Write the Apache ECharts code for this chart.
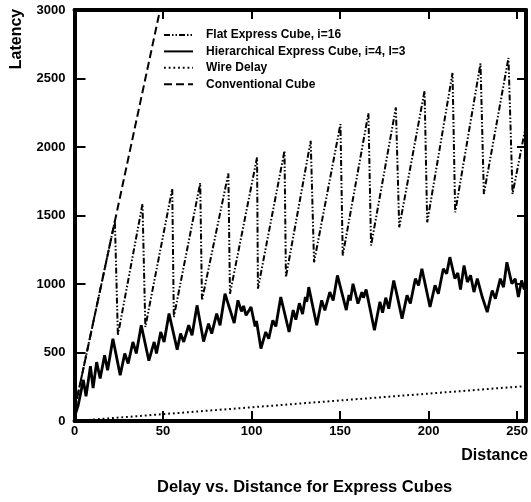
<!DOCTYPE html>
<html lang="en">
<head>
<meta charset="utf-8" />
<title>Delay vs. Distance for Express Cubes</title>
<script src="https://cdn.jsdelivr.net/npm/echarts@6/dist/echarts.min.js"></script>
<style>
	html, body { margin: 0; padding: 0; background: #FFFFFF; }
	#chart { width: 531px; height: 502px; }
</style>
</head>
<body>
<div id="chart"></div>
<script>
	// legend labels, in the order of the reference
	var seriesNames = ['Flat Express Cube, i=16', 'Hierarchical Express Cube, i=4, l=3', 'Wire Delay', 'Conventional Cube'];

	// Flat express cube: sawtooth, peak then drop every 16
	var flatX = [0, 22.8, 24.5, 38.4, 40, 55.2, 56.1, 71, 72, 86.9, 87.8, 103.1, 103.6, 118.6, 119.4, 133.4, 135.3, 150.2, 151.5, 166, 167.5, 181.5, 183.4, 197.7, 199.2, 213.5, 215, 229.3, 231.2, 245.1, 247.4, 255];
	var flatY = [80, 1460, 626, 1584, 686, 1694, 759, 1737, 881, 1807, 929, 1924, 966, 1972, 1050, 2045, 1159, 2167, 1208, 2247, 1281, 2288, 1414, 2409, 1450, 2540, 1523, 2610, 1657, 2650, 1657, 2160];

	// Hierarchical express cube: jagged line
	var hierX = [0, 2, 5, 6.5, 9, 10.5, 12.5, 14.5, 17, 18.7, 21.7, 25.8, 28.4, 30.3, 33, 34.9, 37.7, 42, 45, 46.3, 48.7, 50.6, 53.4, 58, 59.9, 61.7, 64.5, 66.4, 69.2, 72.9, 75.7, 77.5, 80.3, 82.2, 85, 90.2, 92.3, 94.3, 95.5, 96.9, 99.7, 102, 102.8, 105.3, 108, 109.7, 112, 113.7, 116.5, 121.2, 123.5, 125, 127, 128.8, 130.4, 131.2, 132.3, 136.8, 139.6, 141.4, 144.2, 146.1, 148.5, 153.5, 155, 155.8, 157.3, 160.1, 162.3, 163.2, 164.7, 169.4, 172.5, 174, 175.8, 177.5, 180.3, 182.2, 185, 187.8, 189.7, 192.5, 194.3, 196.2, 200.8, 203.6, 205.5, 208.3, 210.2, 212, 214.8, 216.5, 218, 220, 221.9, 223.7, 225.6, 227.5, 230.3, 233.1, 235.9, 237.7, 240.5, 242.3, 244.2, 247, 248.9, 250.7, 252.5, 254, 255];
	var hierY = [30, 110, 300, 180, 400, 240, 430, 310, 480, 370, 600, 335, 493, 420, 577, 493, 699, 440, 577, 493, 650, 577, 784, 520, 638, 577, 699, 626, 844, 580, 711, 638, 784, 699, 929, 715, 881, 800, 840, 771, 832, 690, 730, 529, 650, 600, 735, 690, 905, 650, 810, 740, 860, 780, 905, 870, 977, 699, 881, 808, 941, 880, 1063, 810, 920, 880, 1002, 857, 940, 900, 960, 662, 870, 790, 900, 820, 1026, 917, 747, 917, 857, 1039, 990, 1111, 832, 990, 929, 1111, 1075, 1196, 1040, 1080, 960, 1135, 1014, 1063, 941, 1039, 905, 795, 953, 893, 1039, 977, 1159, 1002, 1039, 905, 1026, 960, 1000];

	// Wire delay: straight line
	var wireX = [0, 255];
	var wireY = [0, 255];

	// Conventional cube: steep straight line, leaves the plot at the top
	var convX = [0, 48.3];
	var convY = [80, 3000];

	var xMax = 255;
	var yMax = 3000;

	function pairs(xs, ys) {
		return xs.map(function (x, i) { return [x, ys[i]]; });
	}

	var font = '"Liberation Sans", Arial, Helvetica, sans-serif';
	var chart = echarts.init(document.getElementById('chart'));

	var lineSeries = function (name, data, width, dash) {
		return {
			name: name,
			type: 'line',
			data: data,
			symbol: 'none',
			clip: true,
			itemStyle: { color: '#000' },
			lineStyle: { color: '#000', width: width, type: dash }
		};
	};

	chart.setOption({
		animation: false,
		backgroundColor: '#FFFFFF',
		title: {
			text: 'Delay vs. Distance for Express Cubes',
			left: 157,
			top: 479,
			padding: 0,
			textStyle: { fontFamily: font, fontWeight: 'bold', fontSize: 16.5, color: '#000' }
		},
		legend: {
			orient: 'vertical',
			left: 163,
			top: 29,
			padding: 0,
			itemWidth: 29,
			itemHeight: 12,
			itemGap: 4.4,
			itemStyle: { opacity: 0 },
			textStyle: { fontFamily: font, fontWeight: 'bold', fontSize: 12, lineHeight: 12, color: '#000', padding: [0, 0, 0, 8] },
			data: seriesNames
		},
		grid: { left: 74.5, right: -2, top: 10, bottom: 81 },
		xAxis: [{
			type: 'value',
			min: 0,
			max: xMax,
			interval: 50,
			name: 'Distance',
			nameLocation: 'end',
			nameGap: 2,
			nameTextStyle: { fontFamily: font, fontWeight: 'bold', fontSize: 16, color: '#000', align: 'right', verticalAlign: 'top', padding: [27, 0, 0, 0] },
			axisLine: { onZero: false, lineStyle: { color: '#000', width: 4 } },
			axisTick: { inside: true, length: 10, lineStyle: { color: '#000', width: 2 } },
			axisLabel: { margin: 4, showMaxLabel: false, fontFamily: font, fontWeight: 'bold', fontSize: 13, color: '#000' },
			splitLine: { show: false }
		}, {
			type: 'value',
			position: 'top',
			min: 0,
			max: xMax,
			interval: 50,
			axisLine: { onZero: false, lineStyle: { color: '#000', width: 4 } },
			axisTick: { inside: true, length: 9, lineStyle: { color: '#000', width: 2 } },
			axisLabel: { show: false },
			splitLine: { show: false }
		}],
		yAxis: [{
			type: 'value',
			min: 0,
			max: yMax,
			interval: 500,
			axisLine: { show: true, onZero: false, lineStyle: { color: '#000', width: 4 } },
			axisTick: { show: true, inside: true, length: 11, lineStyle: { color: '#000', width: 2 } },
			axisLabel: {
				margin: 9,
				fontFamily: font,
				fontWeight: 'bold',
				fontSize: 13,
				color: '#000',
				formatter: function (v) { return String(v); }
			},
			splitLine: { show: false }
		}, {
			type: 'value',
			position: 'right',
			min: 0,
			max: yMax,
			interval: 500,
			axisLine: { show: true, onZero: false, lineStyle: { color: '#000', width: 4 } },
			axisTick: { show: true, inside: true, length: 9, lineStyle: { color: '#000', width: 2 } },
			axisLabel: { show: false },
			splitLine: { show: false }
		}],
		graphic: [{
			type: 'text',
			x: 17,
			y: 39,
			rotation: Math.PI / 2,
			style: { text: 'Latency', font: 'bold 16px ' + font, fill: '#000', align: 'center', verticalAlign: 'middle' }
		}],
		series: [
			lineSeries(seriesNames[0], pairs(flatX, flatY), 2, [6, 2, 1.5, 2, 1.5, 2]),
			lineSeries(seriesNames[1], pairs(hierX, hierY), 2.8, 'solid'),
			lineSeries(seriesNames[2], pairs(wireX, wireY), 2, [1.8, 2.9]),
			lineSeries(seriesNames[3], pairs(convX, convY), 2, [8, 4])
		]
	});

	window.addEventListener('resize', function () {
		chart.resize();
	});
</script>
</body>
</html>
